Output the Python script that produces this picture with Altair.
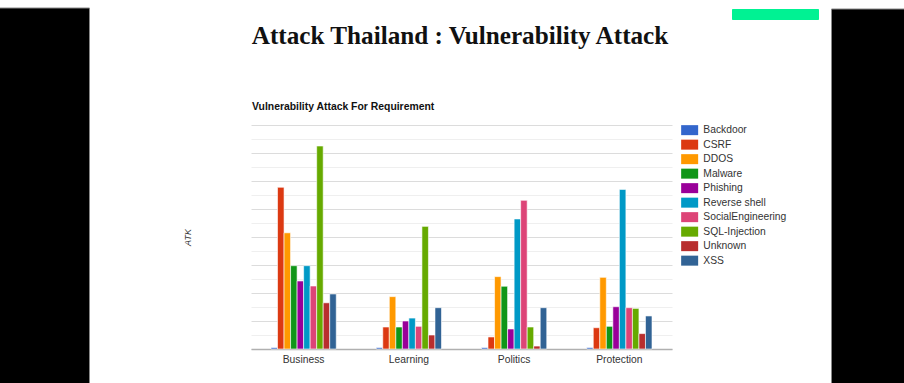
import altair as alt
import pandas as pd

categories = ["Business", "Learning", "Politics", "Protection"]
attack_types = ["Backdoor", "CSRF", "DDOS", "Malware", "Phishing", "Reverse shell",
                "SocialEngineering", "SQL-Injection", "Unknown", "XSS"]
colors = ["#3366cc", "#dc3912", "#ff9900", "#109618", "#990099", "#0099c6",
          "#dd4477", "#66aa00", "#b82e2e", "#316395"]

business = [0.1, 11.55, 8.3, 5.95, 4.86, 5.95, 4.5, 14.5, 3.3, 3.93]
learning = [0.1, 1.57, 3.74, 1.57, 2.0, 2.21, 1.62, 8.76, 1.0, 2.95]
politics = [0.1, 0.86, 5.17, 4.48, 1.43, 9.29, 10.62, 1.57, 0.21, 2.95]
protection = [0.1, 1.52, 5.12, 1.62, 3.02, 11.4, 2.95, 2.9, 1.1, 2.36]
series = [business, learning, politics, protection]

rows = []
for cat, vals in zip(categories, series):
    for t, v in zip(attack_types, vals):
        rows.append({"category": cat, "type": t, "ATK": v})
df = pd.DataFrame(rows)

one = pd.DataFrame({"k": [0]})

FONT = "Liberation Sans"

bars = alt.Chart(df).mark_bar(stroke="white", strokeWidth=0.6).encode(
    x=alt.X("category:N", sort=categories,
            scale=alt.Scale(paddingInner=0.38, paddingOuter=0.19),
            axis=alt.Axis(title=None, labelAngle=0, ticks=False, labelFont=FONT,
                          labelFontSize=10.3, labelColor="#333333", labelPadding=5,
                          domainColor="#b0b0b0", domainWidth=1.5)),
    xOffset=alt.XOffset("type:N", sort=attack_types, scale=alt.Scale(paddingInner=0)),
    y=alt.Y("ATK:Q", scale=alt.Scale(domain=[0, 16], nice=False),
            axis=alt.Axis(title="ATK", labels=False, ticks=False, domain=False,
                          values=list(range(0, 17)),
                          gridColor={"condition": {"test": "datum.value % 2 === 0", "value": "#dcdcdc"},
                                     "value": "#efefef"},
                          titleFont=FONT, titleFontSize=9, titleFontStyle="italic",
                          titleFontWeight="normal", titleColor="#333333",
                          titleX=-59, titleY=112)),
    color=alt.Color("type:N", sort=attack_types,
                    scale=alt.Scale(domain=attack_types, range=colors),
                    legend=alt.Legend(title=None, orient="none", legendX=433.5, legendY=0,
                                      symbolType="M-1.7,-1H1.7V1H-1.7Z", symbolSize=100,
                                      symbolStrokeWidth=0, labelFont=FONT, labelFontSize=10.3,
                                      labelColor="#333333", labelOffset=8.5, rowPadding=3.5)),
)

left_black = alt.Chart(one).mark_rect(color="black", stroke="#888888", strokeWidth=1).encode(
    x=alt.value(-260), x2=alt.value(-161.5), y=alt.value(-117), y2=alt.value(270))
right_black = alt.Chart(one).mark_rect(color="black", stroke="#888888", strokeWidth=1).encode(
    x=alt.value(580.5), x2=alt.value(670), y=alt.value(-116), y2=alt.value(270))
green = alt.Chart(one).mark_rect(color="#00f293", cornerRadius=1).encode(
    x=alt.value(481), x2=alt.value(568), y=alt.value(-116), y2=alt.value(-105))

title = alt.Chart(one).mark_text(
    text="Attack Thailand : Vulnerability Attack", font="Liberation Serif",
    fontSize=25.2, fontWeight="bold", color="#111111", align="center", baseline="alphabetic"
).encode(x=alt.value(209), y=alt.value(-81))

subtitle = alt.Chart(one).mark_text(
    text="Vulnerability Attack For Requirement", font=FONT, fontSize=10.4,
    fontWeight="bold", color="#111111", align="left", baseline="alphabetic"
).encode(x=alt.value(1), y=alt.value(-15))

chart = alt.layer(bars, left_black, right_black, green, title, subtitle).properties(
    width=421, height=224,
    autosize=alt.AutoSizeParams(type="none"),
    padding={"left": 251, "top": 125, "right": 232, "bottom": 34},
    background="white",
).configure_view(stroke=None)

chart.save("out.html", embed_options={"renderer": "svg", "actions": False})
